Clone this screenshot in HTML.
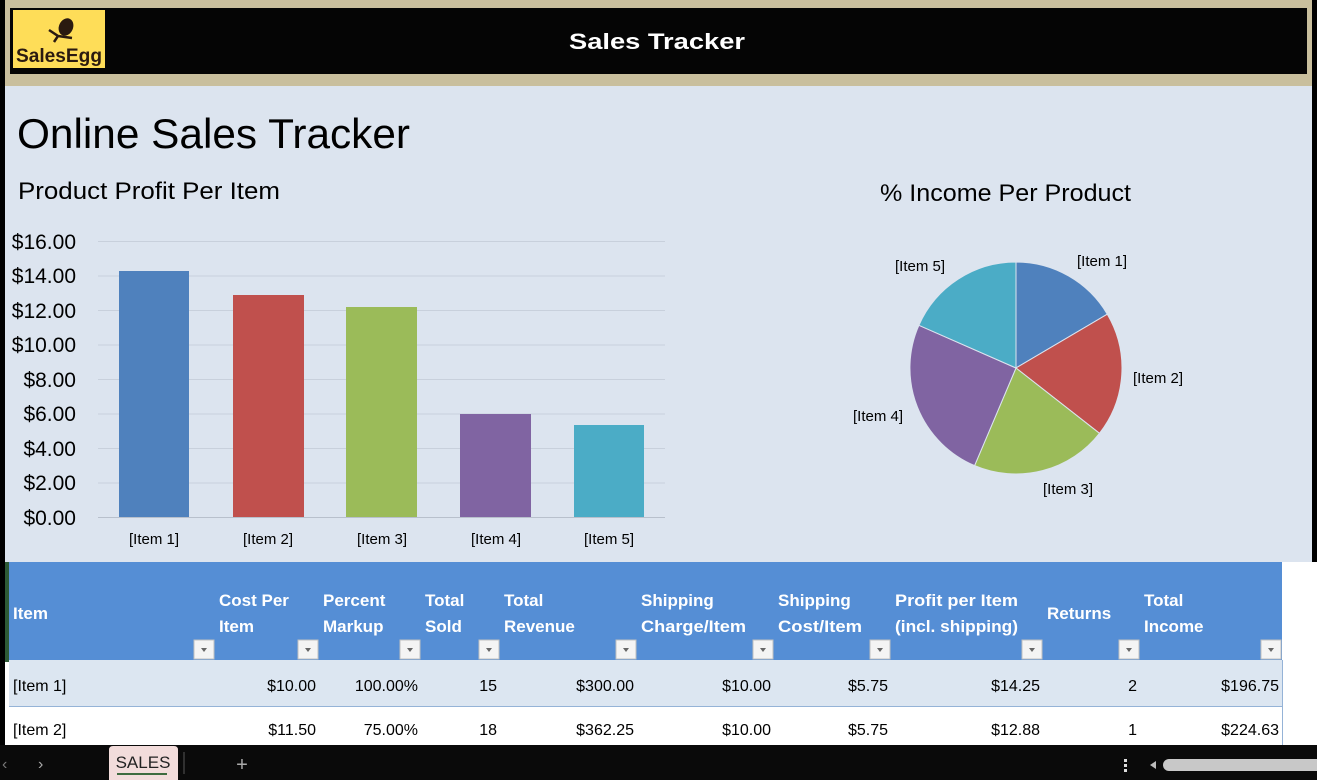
<!DOCTYPE html>
<html><head><meta charset="utf-8"><style>
html,body{margin:0;padding:0;background:#000;}
svg{display:block;}
text{font-family:"Liberation Sans",sans-serif;}
</style></head><body>
<svg width="1317" height="780" viewBox="0 0 1317 780" xmlns="http://www.w3.org/2000/svg">
<rect x="0" y="0" width="1317" height="780" fill="#000"/>
<!-- header -->
<rect x="5" y="0" width="1307" height="86" fill="#c9bf9d"/>
<rect x="10" y="8" width="1297" height="66" fill="#050505"/>
<rect x="13" y="10" width="92" height="58" fill="#fedd58"/>
<ellipse cx="66" cy="27" rx="7" ry="9" fill="#2a1a10" transform="rotate(25 66 27)"/>
<path d="M49 30 L58 36 L54 42 M58 36 L72 38" stroke="#2a1a10" stroke-width="2.5" fill="none"/>
<text x="16" y="62" font-size="19" font-weight="bold" fill="#2a1a10" textLength="86" lengthAdjust="spacingAndGlyphs">SalesEgg</text>
<text x="657" y="49" font-size="22" font-weight="bold" fill="#fff" text-anchor="middle" textLength="176" lengthAdjust="spacingAndGlyphs">Sales Tracker</text>
<!-- main area -->
<rect x="5" y="86" width="1307" height="476" fill="#dce4ef"/>
<text x="17" y="148" font-size="42" fill="#000" textLength="393" lengthAdjust="spacingAndGlyphs">Online Sales Tracker</text>
<text x="18" y="199" font-size="24" fill="#000" textLength="262" lengthAdjust="spacingAndGlyphs">Product Profit Per Item</text>
<text x="880" y="201" font-size="24" fill="#000" textLength="251" lengthAdjust="spacingAndGlyphs">% Income Per Product</text>
<!-- gridlines -->
<g stroke="#c8d0dc" stroke-width="1">
<line x1="98" y1="241.5" x2="665" y2="241.5"/>
<line x1="98" y1="276" x2="665" y2="276"/>
<line x1="98" y1="310.5" x2="665" y2="310.5"/>
<line x1="98" y1="345" x2="665" y2="345"/>
<line x1="98" y1="379.5" x2="665" y2="379.5"/>
<line x1="98" y1="414" x2="665" y2="414"/>
<line x1="98" y1="448.5" x2="665" y2="448.5"/>
<line x1="98" y1="483" x2="665" y2="483"/>
</g>
<line x1="98" y1="517.5" x2="665" y2="517.5" stroke="#b8c0cc"/>
<g font-size="21" fill="#000" text-anchor="end">
<text x="76" y="249">$16.00</text>
<text x="76" y="283">$14.00</text>
<text x="76" y="318">$12.00</text>
<text x="76" y="352">$10.00</text>
<text x="76" y="387">$8.00</text>
<text x="76" y="421">$6.00</text>
<text x="76" y="456">$4.00</text>
<text x="76" y="490">$2.00</text>
<text x="76" y="525">$0.00</text>
</g>
<rect x="119" y="271" width="70" height="246" fill="#4f81bd"/>
<rect x="233" y="295" width="71" height="222" fill="#c0504d"/>
<rect x="346" y="307" width="71" height="210" fill="#9bbb59"/>
<rect x="460" y="414" width="71" height="103" fill="#8064a2"/>
<rect x="574" y="425" width="70" height="92" fill="#4bacc6"/>
<g font-size="15" fill="#000" text-anchor="middle">
<text x="154" y="544">[Item 1]</text>
<text x="268" y="544">[Item 2]</text>
<text x="382" y="544">[Item 3]</text>
<text x="496" y="544">[Item 4]</text>
<text x="609" y="544">[Item 5]</text>
</g>
<!-- pie -->
<g stroke="#dce4ef" stroke-width="1">
<path d="M1016 368 L1016 262 A106 106 0 0 1 1107.3 314.2 Z" fill="#4f81bd"/>
<path d="M1016 368 L1107.3 314.2 A106 106 0 0 1 1099.5 433.3 Z" fill="#c0504d"/>
<path d="M1016 368 L1099.5 433.3 A106 106 0 0 1 974.6 465.6 Z" fill="#9bbb59"/>
<path d="M1016 368 L974.6 465.6 A106 106 0 0 1 918.9 325.3 Z" fill="#8064a2"/>
<path d="M1016 368 L918.9 325.3 A106 106 0 0 1 1016 262 Z" fill="#4bacc6"/>
</g>
<g font-size="15" fill="#000">
<text x="1077" y="266">[Item 1]</text>
<text x="1133" y="383">[Item 2]</text>
<text x="1043" y="494">[Item 3]</text>
<text x="853" y="421">[Item 4]</text>
<text x="895" y="271">[Item 5]</text>
</g>
<!-- table -->
<rect x="5" y="562" width="1312" height="183" fill="#fff"/>
<rect x="5" y="562" width="4" height="100" fill="#2e5a36"/>
<rect x="9" y="562" width="1273" height="98" fill="#558ed5"/>
<rect x="9" y="660" width="1273" height="46" fill="#dce6f1"/>
<line x1="9" y1="706.5" x2="1282" y2="706.5" stroke="#95b3d7"/>
<line x1="1282.5" y1="660" x2="1282.5" y2="745" stroke="#95b3d7"/>
<g font-size="17" font-weight="bold" fill="#fff">
<text x="13" y="619">Item</text>
<text x="219" y="606">Cost Per</text><text x="219" y="632">Item</text>
<text x="323" y="606">Percent</text><text x="323" y="632">Markup</text>
<text x="425" y="606">Total</text><text x="425" y="632">Sold</text>
<text x="504" y="606">Total</text><text x="504" y="632">Revenue</text>
<text x="641" y="606">Shipping</text><text x="641" y="632" textLength="105" lengthAdjust="spacingAndGlyphs">Charge/Item</text>
<text x="778" y="606">Shipping</text><text x="778" y="632" textLength="84" lengthAdjust="spacingAndGlyphs">Cost/Item</text>
<text x="895" y="606" textLength="123" lengthAdjust="spacingAndGlyphs">Profit per Item</text><text x="895" y="632" textLength="123" lengthAdjust="spacingAndGlyphs">(incl. shipping)</text>
<text x="1047" y="619">Returns</text>
<text x="1144" y="606">Total</text><text x="1144" y="632">Income</text>
</g>
<g fill="#f4f4f4" stroke="#c0c0c0">
<rect x="194" y="640" width="20" height="19"/><rect x="298" y="640" width="20" height="19"/>
<rect x="400" y="640" width="20" height="19"/><rect x="479" y="640" width="20" height="19"/>
<rect x="616" y="640" width="20" height="19"/><rect x="753" y="640" width="20" height="19"/>
<rect x="870" y="640" width="20" height="19"/><rect x="1022" y="640" width="20" height="19"/>
<rect x="1119" y="640" width="20" height="19"/><rect x="1261" y="640" width="20" height="19"/>
</g>
<g fill="#666">
<path d="M201 648h6l-3 4z"/><path d="M305 648h6l-3 4z"/><path d="M407 648h6l-3 4z"/><path d="M486 648h6l-3 4z"/>
<path d="M623 648h6l-3 4z"/><path d="M760 648h6l-3 4z"/><path d="M877 648h6l-3 4z"/><path d="M1029 648h6l-3 4z"/>
<path d="M1126 648h6l-3 4z"/><path d="M1268 648h6l-3 4z"/>
</g>
<g font-size="16" fill="#000">
<text x="13" y="691">[Item 1]</text>
<text x="13" y="735">[Item 2]</text>
</g>
<g font-size="16" fill="#000" text-anchor="end">
<text x="316" y="691">$10.00</text><text x="418" y="691">100.00%</text><text x="497" y="691">15</text>
<text x="634" y="691">$300.00</text><text x="771" y="691">$10.00</text><text x="888" y="691">$5.75</text>
<text x="1040" y="691">$14.25</text><text x="1137" y="691">2</text><text x="1279" y="691">$196.75</text>
<text x="316" y="735">$11.50</text><text x="418" y="735">75.00%</text><text x="497" y="735">18</text>
<text x="634" y="735">$362.25</text><text x="771" y="735">$10.00</text><text x="888" y="735">$5.75</text>
<text x="1040" y="735">$12.88</text><text x="1137" y="735">1</text><text x="1279" y="735">$224.63</text>
</g>
<!-- bottom bar -->
<rect x="0" y="745" width="1317" height="35" fill="#0a0a0a"/>
<text x="2" y="769" font-size="16" fill="#777">‹</text>
<text x="38" y="769" font-size="16" fill="#aaa">›</text>
<path d="M109 780 V750 Q109 746 113 746 H174 Q178 746 178 750 V780 Z" fill="#f2dcdb"/>
<text x="143" y="768" font-size="17" fill="#222" text-anchor="middle">SALES</text>
<rect x="117" y="773" width="50" height="2" fill="#3d6b3f"/>
<line x1="184" y1="752" x2="184" y2="774" stroke="#555"/>
<text x="242" y="771" font-size="20" fill="#aaa" text-anchor="middle">+</text>
<g fill="#ddd"><rect x="1124" y="759" width="3" height="3"/><rect x="1124" y="764" width="3" height="3"/><rect x="1124" y="769" width="3" height="3"/></g>
<path d="M1150 765 l6 -4 v8 z" fill="#bbb"/>
<rect x="1163" y="759" width="160" height="12" rx="6" fill="#c8c8c8"/>
</svg>
</body></html>
